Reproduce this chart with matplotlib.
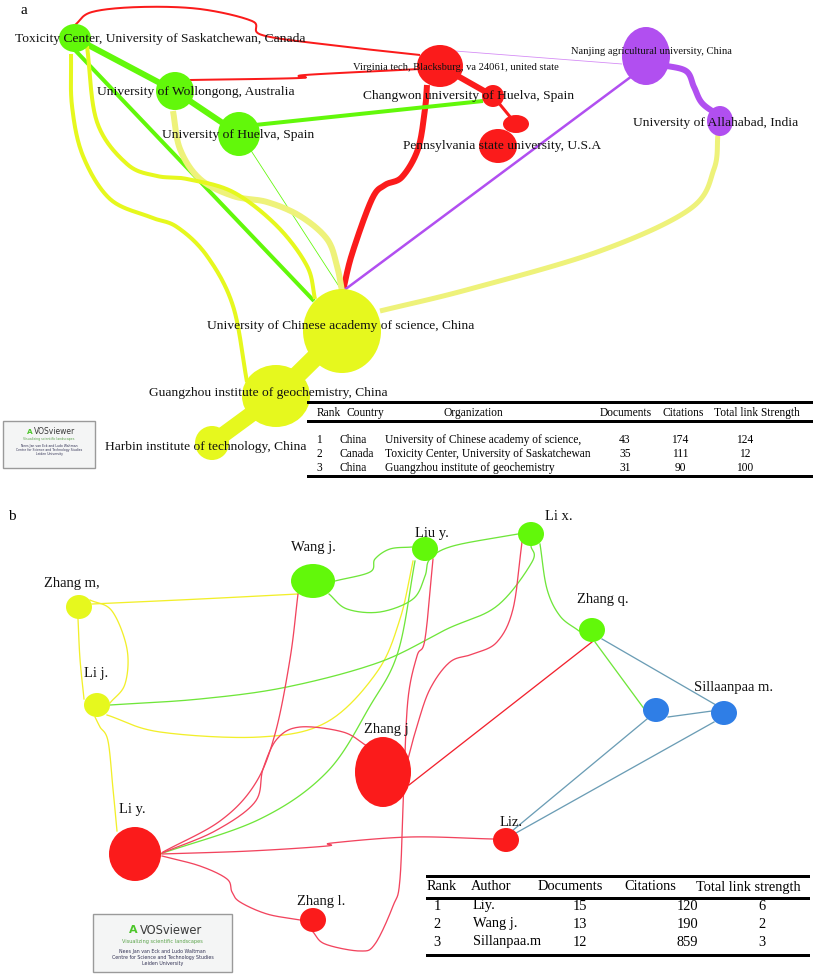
import matplotlib.pyplot as plt
import numpy as np
from matplotlib.patches import Ellipse, Rectangle

W, H = 813, 978
PX = 72 / 100  # pixel width -> points

plt.rcParams['font.family'] = ['Liberation Serif', 'DejaVu Serif']

cluster_colors = {1: '#fb1b1b', 2: '#62f80a', 3: '#e6f81e', 4: '#b14ff0', 5: '#2f7ee6'}
RED, GREEN, YELLOW, PURPLE = '#fb1b1b', '#62f80a', '#e6f81e', '#b14ff0'
PALE = '#eef27a'

# ---------------- panel a : organisations ----------------
org_names = ["Toxicity Center, University of Saskatchewan, Canada",
             "University of Wollongong, Australia",
             "University of Huelva, Spain",
             "Virginia tech, Blacksburg, va 24061, united state",
             "Changwon university of Huelva, Spain",
             "",
             "Pennsylvania state university, U.S.A",
             "Nanjing agricultural university, China",
             "University of Allahabad, India",
             "University of Chinese academy of science, China",
             "Guangzhou institute of geochemistry, China",
             "Harbin institute of technology, China"]
org_cluster = [2, 2, 2, 1, 1, 1, 1, 4, 4, 3, 3, 3]
org_x = [75, 175, 239, 440, 493, 516, 498, 646, 720, 342, 276, 212]
org_y = [39, 92, 135, 67, 97, 125, 147, 57, 122, 332, 397, 444]
org_rx = [16, 19, 21, 23, 11, 13, 19, 24, 13, 39, 34, 17]
org_ry = [14, 19, 22, 21, 11, 9, 17, 29, 15, 42, 31, 17]
org_lab_x = [160, 196, 238, 456, 469, 0, 502, 651, 716, 341, 268, 206]
org_lab_y = [39, 92, 135, 68, 96, 0, 146, 51, 123, 326, 393, 447]
org_small = [3, 7]

# links: waypoints, width (px), colour
links_a = [
    ([(75, 26), (92, 13), (140, 8), (200, 10), (252, 22), (262, 36), (330, 46), (420, 56)], 2, RED),
    ([(190, 81), (300, 79), (305, 76), (420, 70)], 2, RED),
    ([(440, 67), (493, 97)], 6, RED),
    ([(493, 97), (516, 125)], 3, RED),
    ([(427, 86), (425, 110), (418, 150), (402, 178), (385, 186), (372, 200), (352, 255), (343, 292)], 6, RED),
    ([(75, 39), (175, 92)], 6, GREEN),
    ([(175, 92), (239, 135)], 6, GREEN),
    ([(255, 126), (483, 102)], 4, GREEN),
    ([(72, 48), (314, 302)], 4, GREEN),
    ([(250, 150), (342, 292)], 0.8, GREEN),
    ([(632, 77), (343, 292)], 2.5, PURPLE),
    ([(455, 52), (622, 65)], 0.8, '#d48af5'),
    ([(662, 66), (686, 72), (694, 88), (702, 104), (718, 116)], 6, PURPLE),
    ([(718, 135), (714, 170), (690, 210), (600, 252), (470, 290), (380, 312)], 5, PALE),
    ([(173, 112), (180, 150), (200, 180), (233, 197), (267, 203), (300, 217), (327, 240), (337, 267), (342, 292)], 6, PALE),
    ([(87, 47), (97, 123), (127, 165), (157, 177), (187, 180), (233, 193), (277, 227), (307, 267), (315, 300)], 4, YELLOW),
    ([(71, 55), (72, 107), (83, 157), (110, 200), (150, 218), (177, 228), (207, 257), (233, 307), (247, 383)], 4, YELLOW),
    ([(342, 332), (276, 397)], 18, YELLOW),
    ([(276, 397), (212, 444)], 16, YELLOW),
]

table_a_head = ["Rank", "Country", "Organization", "Documents", "Citations", "Total link Strength"]
table_a_rows = [["1", "China", "University of Chinese academy of science,", "43", "174", "124"],
                ["2", "Canada", "Toxicity Center, University of Saskatchewan", "35", "111", "12"],
                ["3", "China", "Guangzhou institute of geochemistry", "31", "90", "100"]]

# ---------------- panel b : authors ----------------
auth_names = ["Zhang m,", "Li j.", "Wang j.", "Liu y.", "Li x.", "Zhang q.", "",
              "Sillaanpaa m.", "Zhang j", "Li y.", "Zhang l.", "Liz."]
auth_cluster = [3, 3, 2, 2, 2, 2, 5, 5, 1, 1, 1, 1]
auth_x = [79, 97, 313, 425, 531, 592, 656, 724, 383, 135, 313, 506]
auth_y = [608, 706, 582, 550, 535, 631, 711, 714, 773, 855, 921, 841]
auth_rx = [13, 13, 22, 13, 13, 13, 13, 13, 28, 26, 13, 13]
auth_ry = [12, 12, 17, 12, 12, 12, 12, 12, 35, 27, 12, 12]
auth_lab_x = [72, 96, 313, 432, 559, 603, 0, 734, 386, 132, 321, 511]
auth_lab_y = [584, 674, 547, 533, 517, 599, 0, 687, 730, 810, 902, 823]

YEL_E, GRN_E, RED_E, BLU_E = '#f2ef2a', '#6fe63a', '#f2445e', '#6b9db5'
links_b = [
    ([(92, 605), (200, 600), (298, 595)], YEL_E),
    ([(90, 601), (112, 612), (127, 650), (125, 685), (110, 704)], YEL_E),
    ([(78, 620), (80, 660), (84, 700)], YEL_E),
    ([(95, 718), (100, 728), (108, 742), (113, 790), (117, 832)], YEL_E),
    ([(107, 716), (160, 733), (260, 738), (327, 723), (377, 673), (400, 620), (413, 562)], YEL_E),
    ([(110, 706), (200, 700), (287, 688), (380, 663), (447, 630), (497, 607), (532, 563), (531, 547)], GRN_E),
    ([(160, 855), (260, 820), (327, 773), (370, 707), (398, 653), (415, 562)], GRN_E),
    ([(335, 582), (370, 573), (375, 560), (390, 550), (412, 548)], GRN_E),
    ([(329, 595), (347, 610), (380, 613), (413, 600), (425, 577), (430, 560), (453, 547), (518, 535)], GRN_E),
    ([(540, 545), (547, 590), (560, 617), (579, 632)], GRN_E),
    ([(595, 643), (645, 711)], GRN_E),
    ([(602, 640), (716, 706)], BLU_E),
    ([(668, 718), (712, 712)], BLU_E),
    ([(647, 720), (512, 832)], BLU_E),
    ([(714, 723), (516, 834)], BLU_E),
    ([(298, 595), (290, 660), (275, 735), (255, 785), (220, 822), (163, 853)], RED_E),
    ([(367, 747), (343, 733), (300, 728), (277, 740), (263, 770), (255, 803), (215, 832), (162, 854)], RED_E),
    ([(522, 543), (513, 610), (497, 643), (473, 655), (450, 663), (430, 690), (417, 727), (408, 760)], RED_E),
    ([(433, 560), (425, 640), (417, 657), (408, 700), (404, 780), (400, 880), (393, 907), (375, 945),
      (360, 952), (325, 945), (313, 933)], RED_E),
    ([(162, 855), (250, 852), (327, 847), (332, 844), (410, 838), (493, 840)], RED_E),
    ([(162, 857), (200, 867), (227, 880), (232, 893), (240, 903), (267, 915), (300, 921)], RED_E),
    ([(592, 643), (409, 786)], '#f2222e'),
]

table_b_head = ["Rank", "Author", "Documents", "Citations", "Total link strength"]
table_b_rows = [["1", "Liy.", "15", "120", "6"],
                ["2", "Wang j.", "13", "190", "2"],
                ["3", "Sillanpaa.m", "12", "859", "3"]]


def smooth(pts, n=24):
    p = np.asarray(pts, float)
    if len(p) < 3:
        return p
    P = np.vstack([2 * p[0] - p[1], p, 2 * p[-1] - p[-2]])
    out = []
    t = np.linspace(0, 1, n, endpoint=False)[:, None]
    for i in range(1, len(P) - 2):
        p0, p1, p2, p3 = P[i - 1], P[i], P[i + 1], P[i + 2]
        out.append(0.5 * (2 * p1 + (p2 - p0) * t + (2 * p0 - 5 * p1 + 4 * p2 - p3) * t ** 2
                          + (3 * p1 - p0 - 3 * p2 + p3) * t ** 3))
    out.append(P[-2][None])
    return np.vstack(out)


def draw_logo(ax, x0, y0, w, h):
    ax.add_patch(Rectangle((x0, y0), w, h, facecolor='#f4f5f5', edgecolor='#9a9a9a', lw=1, zorder=4))
    s = w / 139
    ax.text(x0 + 78 * s, y0 + 15 * s, "VOSviewer", family='DejaVu Sans', fontsize=8.3 * s,
            color='#3a3a3a', ha='center', va='center', zorder=5)
    ax.text(x0 + 40 * s, y0 + 15 * s, "A", family='DejaVu Sans', fontsize=8 * s, weight='bold',
            color='#4cc62a', ha='center', va='center', zorder=5)
    ax.text(x0 + w / 2, y0 + 26 * s, "Visualizing scientific landscapes", family='DejaVu Sans',
            fontsize=3.6 * s, color='#5aa34a', ha='center', va='center', zorder=5)
    for k, line in enumerate(["Nees Jan van Eck and Ludo Waltman",
                              "Centre for Science and Technology Studies", "Leiden University"]):
        ax.text(x0 + w / 2, y0 + (37 + 5.5 * k) * s, line, family='DejaVu Sans', fontsize=3.4 * s,
                color='#333355', ha='center', va='center', zorder=5)


fig = plt.figure(figsize=(W / 100, H / 100), dpi=100)
ax = fig.add_axes([0, 0, 1, 1])
ax.set_xlim(0, W)
ax.set_ylim(H, 0)
ax.axis('off')

# ---- panel a ----
ax.text(20, 10, "a", fontsize=11, ha='left', va='center')
for pts, w, c in links_a:
    xy = smooth(pts)
    ax.plot(xy[:, 0], xy[:, 1], color=c, lw=w * PX, solid_capstyle='butt', zorder=1)
for i, name in enumerate(org_names):
    ax.add_patch(Ellipse((org_x[i], org_y[i]), 2 * org_rx[i], 2 * org_ry[i],
                         facecolor=cluster_colors[org_cluster[i]], edgecolor='none', zorder=2))
for i, name in enumerate(org_names):
    if name:
        ax.text(org_lab_x[i], org_lab_y[i], name, fontsize=7.6 if i in org_small else 9.7,
                ha='center', va='center', color='#111111', zorder=3)

draw_logo(ax, 3, 422, 92, 47)

# table a
for yl in (403, 422, 477):
    ax.plot([308, 812], [yl, yl], color='black', lw=3 * PX, zorder=3)
head_x = [317, 346, 473, 626, 683, 757]
head_ha = ['left', 'left', 'center', 'center', 'center', 'center']
for hx, ha, txt in zip(head_x, head_ha, table_a_head):
    ax.text(hx, 413, txt, fontsize=8.3, ha=ha, va='center')
row_x = [319, 339, 385, 625, 680, 745]
row_ha = ['center', 'left', 'left', 'center', 'center', 'center']
for r, row in enumerate(table_a_rows):
    for cx, ha, txt in zip(row_x, row_ha, row):
        ax.text(cx, 440 + 14 * r, txt, fontsize=8.3, ha=ha, va='center')

# ---- panel b ----
ax.text(8, 517, "b", fontsize=11, ha='left', va='center')
for pts, c in links_b:
    xy = smooth(pts)
    ax.plot(xy[:, 0], xy[:, 1], color=c, lw=1.3 * PX, zorder=1)
for i, name in enumerate(auth_names):
    ax.add_patch(Ellipse((auth_x[i], auth_y[i]), 2 * auth_rx[i], 2 * auth_ry[i],
                         facecolor=cluster_colors[auth_cluster[i]], edgecolor='none', zorder=2))
for i, name in enumerate(auth_names):
    if name:
        ax.text(auth_lab_x[i], auth_lab_y[i], name, fontsize=10.5, ha='center', va='center',
                color='#111111', zorder=3)

draw_logo(ax, 93, 915, 139, 58)

# table b
for yl in (877, 899, 956):
    ax.plot([427, 808], [yl, yl], color='black', lw=3 * PX, zorder=3)
hb_x = [442, 471, 570, 650, 748]
hb_ha = ['center', 'left', 'center', 'center', 'center']
for hx, ha, txt in zip(hb_x, hb_ha, table_b_head):
    ax.text(hx, 887, txt, fontsize=10.4, ha=ha, va='center')
rb_x = [437, 473, 580, 687, 762]
rb_ha = ['center', 'left', 'center', 'center', 'center']
for r, row in enumerate(table_b_rows):
    for cx, ha, txt in zip(rb_x, rb_ha, row):
        ax.text(cx, [906, 924, 942][r], txt, fontsize=10.4, ha=ha, va='center')

fig.savefig("out.png", dpi=100)
